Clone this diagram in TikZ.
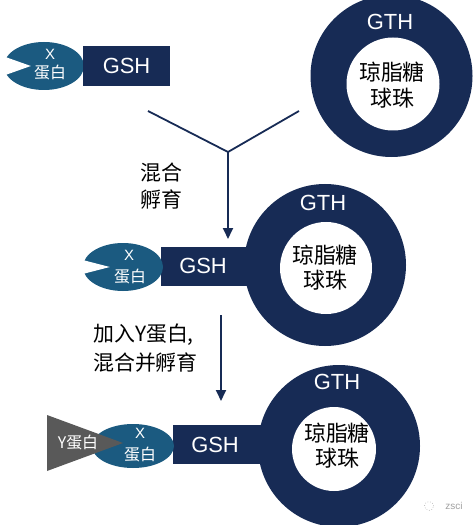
\documentclass[tikz,border=0pt]{standalone}
\usepackage{fontspec}
\setmainfont{Liberation Sans}
\newfontfamily\cjk{Noto Sans CJK SC}
\usetikzlibrary{arrows.meta,shapes.geometric}
\definecolor{navy}{HTML}{172B55}
\definecolor{prot}{HTML}{1B5A80}
\definecolor{ygray}{HTML}{595959}
\definecolor{wm}{HTML}{A0A0A0}
\begin{document}
\begin{tikzpicture}[x=1bp,y=-1bp,
  ring/.style={circle, fill=navy, minimum size=162bp, inner sep=0pt},
  hole/.style={circle, fill=white, minimum size=#1, inner sep=0pt},
  gshbox/.style={fill=navy, inner sep=0pt},
  xprot/.style={ellipse, fill=prot, inner sep=0pt, minimum width=80bp, minimum height=48bp},
  wtxt/.style={text=white, inner sep=0pt, font=\fontsize{22}{24}\selectfont},
  xtxt/.style={text=white, inner sep=0pt, font=\fontsize{15}{17}\selectfont},
  ptxt/.style={text=white, inner sep=0pt, font=\cjk\fontsize{16}{18}\selectfont},
  btxt/.style={text=black, inner sep=0pt, font=\cjk\fontsize{22}{24}\selectfont},
  ltxt/.style={text=black, inner sep=0pt, font=\cjk\fontsize{21}{23}\selectfont},
  conn/.style={draw=navy, line width=1.8bp},
  arr/.style={conn, -{Triangle[length=11bp,width=10bp]}}
]
\useasboundingbox (0,0) rectangle (474,525);

% ---------- Row 1 ----------
\node[xprot] (x1) at (44,66) {};
\fill[white] (x1.west) ++(27,0) -- ++(-31,-11) -- ++(0,22) -- cycle;
\node[xtxt] (x1a) at (50,54) {X};
\node[ptxt] (x1b) at (50,73) {蛋白};
\node[gshbox, minimum width=87bp, minimum height=40bp] (g1) at (126.5,66) {};
\node[wtxt] (g1t) at (126.5,66) {GSH};

\node[ring] (r1) at (391.5,76) {};
\node[hole=93bp] (h1) at (393,84) {};
\node[wtxt] (r1t) at (390,22) {GTH};
\node[btxt] (h1a) at (392,72) {琼脂糖};
\node[btxt] (h1b) at (392,98) {球珠};

% ---------- connectors 1 ----------
\coordinate (ya) at (148,111);
\coordinate (yb) at (299,111);
\coordinate (yj) at (228,152);
\coordinate (a1e) at (228,239);
\draw[conn] (ya) -- (yj);
\draw[conn] (yb) -- (yj);
\draw[arr] (yj) -- (a1e);
\node[ltxt] (l1a) at (161,173) {混合};
\node[ltxt] (l1b) at (161,200) {孵育};

% ---------- Row 2 ----------
\node[gshbox, minimum width=110bp, minimum height=39bp] (g2) at (216,266.5) {};
\node[ring] (r2) at (325,265) {};
\node[hole=92bp] (h2) at (326,268) {};
\node[wtxt] (r2t) at (323,203) {GTH};
\node[btxt] (h2a) at (325,255) {琼脂糖};
\node[btxt] (h2b) at (325,280) {球珠};
\node[wtxt] (g2t) at (203,266) {GSH};

\node[xprot] (x2) at (123,267) {};
\fill[white] (x2.west) ++(27,0) -- ++(-31,-8) -- ++(0,16) -- cycle;
\node[xtxt] (x2a) at (129,255) {X};
\node[ptxt] (x2b) at (130,277) {蛋白};

% ---------- connectors 2 ----------
\coordinate (a2s) at (221,315);
\coordinate (a2e) at (221,401);
\draw[arr] (a2s) -- (a2e);
\node[ltxt, anchor=west] (l2a) at (93,335) {加入Y蛋白,};
\node[ltxt, anchor=west] (l2b) at (93,363) {混合并孵育};

% ---------- Row 3 ----------
\node[gshbox, minimum width=100bp, minimum height=39bp] (g3) at (223,444.5) {};
\node[ring] (r3) at (339,446) {};
\node[hole=84bp] (h3) at (334,449) {};
\node[wtxt] (r3t) at (337,382) {GTH};
\node[btxt] (h3a) at (337,433) {琼脂糖};
\node[btxt] (h3b) at (337,458) {球珠};
\node[wtxt] (g3t) at (215,445) {GSH};

\node[xprot, minimum width=82bp, minimum height=44bp] (x3) at (133,446) {};
\coordinate (t1) at (47,415);
\coordinate (t2) at (47,471);
\coordinate (t3) at (123,443);
\fill[ygray] (t1) -- (t3) -- (t2) -- cycle;
\node[ptxt] (y3) at (78,443) {Y蛋白};
\node[xtxt] (x3a) at (140,433) {X};
\node[ptxt] (x3b) at (140,455) {蛋白};

% ---------- watermark ----------
\node[circle, draw=wm, dotted, line width=0.6bp, minimum size=9bp, inner sep=0pt] (wmi) at (429,506) {};
\node[text=wm, inner sep=0pt, font=\fontsize{10}{12}\selectfont] (wmt) at (454,506) {zsci};
\end{tikzpicture}
\end{document}
